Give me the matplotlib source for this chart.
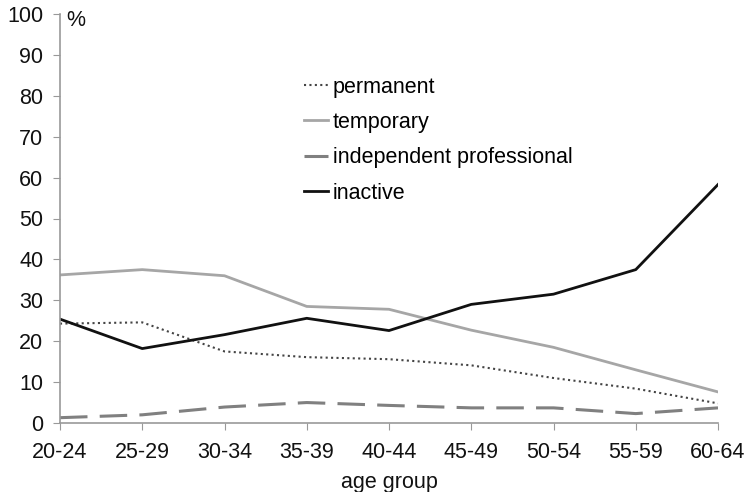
import matplotlib.pyplot as plt

plt.rcParams["font.family"] = ["Liberation Sans", "DejaVu Sans"]

age_groups = ["20-24", "25-29", "30-34", "35-39", "40-44", "45-49", "50-54", "55-59", "60-64"]
permanent = [24.3, 24.6, 17.5, 16.1, 15.6, 14.1, 11.0, 8.4, 4.8]
temporary = [36.2, 37.5, 36.0, 28.5, 27.8, 22.7, 18.5, 13.0, 7.6]
independent = [1.3, 2.0, 3.9, 5.0, 4.3, 3.7, 3.7, 2.3, 3.7]
inactive = [25.4, 18.2, 21.6, 25.6, 22.6, 29.0, 31.5, 37.5, 58.3]

fig = plt.figure(figsize=(7.51, 4.92), dpi=100)
ax = fig.add_axes([60 / 751, 1 - 423 / 492, 658 / 751, 409 / 492])

x = range(len(age_groups))
ax.plot(x, permanent, color="#444444", linestyle=(0, (1, 1.6)), linewidth=1.5, label="permanent")
ax.plot(x, temporary, color="#a6a6a6", linewidth=2, label="temporary")
ax.plot(x, independent, color="#808080", linestyle=(0, (9, 4)), linewidth=2.2, label="independent professional")
ax.plot(x, inactive, color="#111111", linewidth=2, label="inactive")

fs = 15.5
ax.set_xlim(0, len(age_groups) - 1)
ax.set_ylim(0, 100)
ax.set_yticks(range(0, 101, 10))
ax.set_xticks(list(x))
ax.set_xticklabels(age_groups)
ax.tick_params(labelsize=fs, colors="#999999", labelcolor="#111111", direction="out", length=5)
ax.tick_params(axis="y", pad=7)
ax.tick_params(axis="x", pad=9)
for side in ["top", "right"]:
    ax.spines[side].set_visible(False)
for side in ["left", "bottom"]:
    ax.spines[side].set_color("#999999")
    ax.spines[side].set_linewidth(1.2)

ax.set_xlabel("age group", fontsize=fs, color="#111111", labelpad=6)
ax.text(0.07, 101, "%", fontsize=fs, va="top", ha="left", color="#111111")

ax.legend(loc="upper left", bbox_to_anchor=(0.357, 0.868), frameon=False, fontsize=fs,
          handlelength=1.16, handletextpad=0.2, labelspacing=0.665, borderaxespad=0)

fig.savefig("out.png", dpi=100)
